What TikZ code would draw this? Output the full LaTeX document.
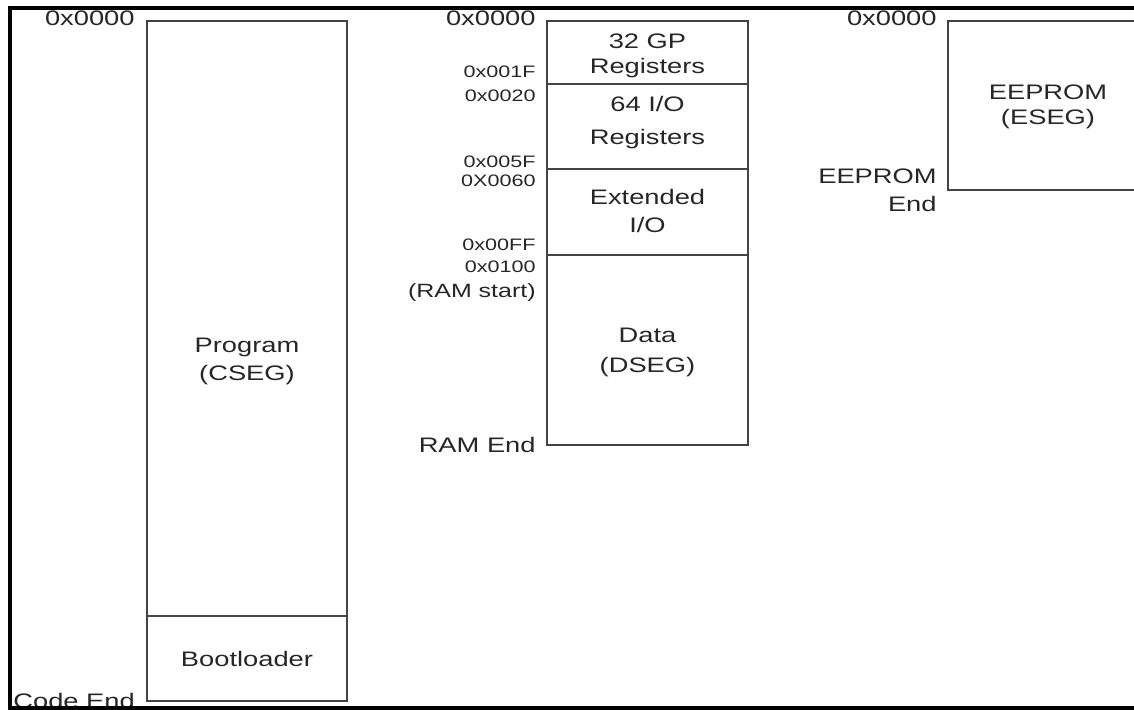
\documentclass[tikz,border=0pt]{standalone}
\usepackage{fontspec}
% Arial-metric sans, set wide as in the memory-map figure
\setmainfont{Liberation Sans}[FakeStretch=1.3]
\definecolor{ink}{HTML}{262626}
\definecolor{rulegray}{HTML}{444444}
\tikzset{
  seg/.style={draw=rulegray, line width=1pt},
  frameline/.style={draw=black, line width=1.6pt, line join=miter},
  lab/.style={inner sep=0pt, text=ink, font=\fontsize{10.5}{12}\selectfont, anchor=base},
  labR/.style={lab, anchor=base east},
  addr/.style={labR, font=\fontsize{8.3}{10}\selectfont},
}
\begin{document}
\begin{tikzpicture}[x=0.5pt,y=-0.5pt]
\useasboundingbox (0,0) rectangle (1134,710);
\begin{scope}
\clip (0,0) rectangle (1134,710);

% ---- program memory (CSEG) ----
\draw[seg] (147,21) rectangle (347,701);
\draw[seg] (147,616) -- (347,616);
\node[labR] (cstart) at (135,26) {0x0000};
\node[lab] (prog1) at (247,353) {Program};
\node[lab] (prog2) at (247,381) {(CSEG)};
\node[lab] (boot) at (247,666) {Bootloader};
\node[lab, anchor=base west] (cend) at (13,708) {Code End};

% ---- data memory (DSEG) ----
\draw[seg] (547,21) rectangle (748,445);
\draw[seg] (547,84) -- (748,84);
\draw[seg] (547,169) -- (748,169);
\draw[seg] (547,255) -- (748,255);
\node[labR] (dstart) at (536,26) {0x0000};
\node[addr] (a1f) at (536,78) {0x001F};
\node[addr] (a20) at (536,101.5) {0x0020};
\node[addr] (a5f) at (536,168) {0x005F};
\node[addr] (a60) at (536,186.5) {0X0060};
\node[addr] (aff) at (536,250.5) {0x00FF};
\node[addr] (a100) at (536,273) {0x0100};
\node[labR, font=\fontsize{9.6}{11}\selectfont] (rstart) at (536,298) {(RAM start)};
\node[labR] (rend) at (536,452.5) {RAM End};
\node[lab] (gp1) at (647.5,48.5) {32 GP};
\node[lab] (gp2) at (647.5,74) {Registers};
\node[lab] (io1) at (647.5,111.5) {64 I/O};
\node[lab] (io2) at (647.5,145) {Registers};
\node[lab] (ext1) at (647.5,205) {Extended};
\node[lab] (ext2) at (647.5,233) {I/O};
\node[lab] (dat1) at (647.5,343) {Data};
\node[lab] (dat2) at (647.5,373) {(DSEG)};

% ---- EEPROM (ESEG) ----
\draw[seg] (1160,21) -- (948,21) -- (948,190) -- (1160,190);
\node[labR] (estart) at (937,26) {0x0000};
\node[lab] (ee1) at (1048,100) {EEPROM};
\node[lab] (ee2) at (1048,125) {(ESEG)};
\node[labR] (eend1) at (937,183.5) {EEPROM};
\node[labR] (eend2) at (937,211.5) {End};

% ---- outer frame ----
\draw[frameline] (1140,8) -- (10,8) -- (10,708) -- (1140,708);
\end{scope}
\end{tikzpicture}
\end{document}
